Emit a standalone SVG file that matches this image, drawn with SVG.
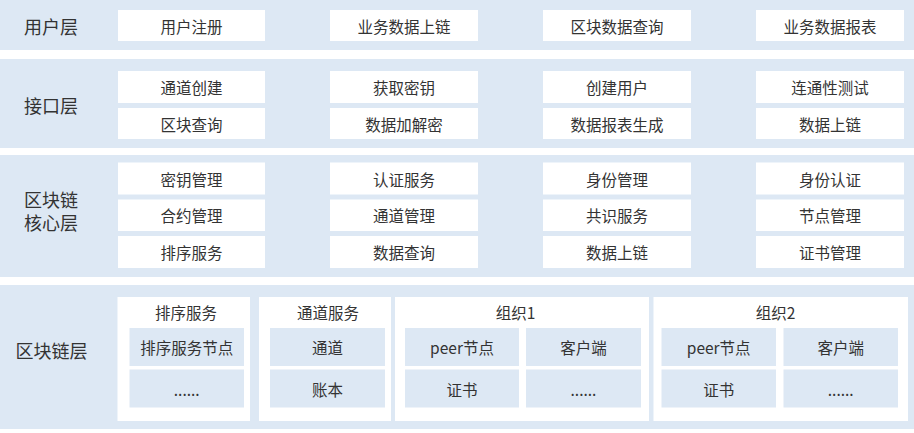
<svg xmlns="http://www.w3.org/2000/svg" width="914" height="433" viewBox="0 0 914 433">
<style>
.band{fill:#dde8f4}
.cell{fill:#ffffff}
.inner{fill:#dde8f4}
text{font-family:"Noto Sans CJK SC","Microsoft YaHei",sans-serif;fill:#333333;text-anchor:middle;dominant-baseline:central}
.t{font-size:15.5px}
.lbl{font-size:18px}
</style>
<rect width="914" height="433" fill="#ffffff"/>
<g id="layer-user">
<rect class="band" x="0" y="0" width="914" height="50"/>
<text class="lbl" x="51" y="25.5">用户层</text>
<g id="n-user-1"><rect class="cell" x="118" y="10" width="147" height="31"/><text class="t" x="191.5" y="25.5">用户注册</text></g>
<g id="n-user-2"><rect class="cell" x="330" y="10" width="148" height="31"/><text class="t" x="404" y="25.5">业务数据上链</text></g>
<g id="n-user-3"><rect class="cell" x="543" y="10" width="148" height="31"/><text class="t" x="617" y="25.5">区块数据查询</text></g>
<g id="n-user-4"><rect class="cell" x="756" y="10" width="148" height="31"/><text class="t" x="830" y="25.5">业务数据报表</text></g>
</g>
<g id="layer-api">
<rect class="band" x="0" y="59" width="914" height="89"/>
<text class="lbl" x="51" y="104.5">接口层</text>
<g id="n-api-1"><rect class="cell" x="118" y="71" width="147" height="32"/><text class="t" x="191.5" y="87">通道创建</text></g>
<g id="n-api-2"><rect class="cell" x="330" y="71" width="148" height="32"/><text class="t" x="404" y="87">获取密钥</text></g>
<g id="n-api-3"><rect class="cell" x="543" y="71" width="148" height="32"/><text class="t" x="617" y="87">创建用户</text></g>
<g id="n-api-4"><rect class="cell" x="756" y="71" width="148" height="32"/><text class="t" x="830" y="87">连通性测试</text></g>
<g id="n-api-5"><rect class="cell" x="118" y="108" width="147" height="31"/><text class="t" x="191.5" y="123.5">区块查询</text></g>
<g id="n-api-6"><rect class="cell" x="330" y="108" width="148" height="31"/><text class="t" x="404" y="123.5">数据加解密</text></g>
<g id="n-api-7"><rect class="cell" x="543" y="108" width="148" height="31"/><text class="t" x="617" y="123.5">数据报表生成</text></g>
<g id="n-api-8"><rect class="cell" x="756" y="108" width="148" height="31"/><text class="t" x="830" y="123.5">数据上链</text></g>
</g>
<g id="layer-core">
<rect class="band" x="0" y="155" width="914" height="122"/>
<text class="lbl" x="51" y="199"><tspan x="51" y="199">区块链</tspan><tspan x="51" y="222">核心层</tspan></text>
<g id="n-core-1"><rect class="cell" x="118" y="162.5" width="147" height="32"/><text class="t" x="191.5" y="178.5">密钥管理</text></g>
<g id="n-core-2"><rect class="cell" x="330" y="162.5" width="148" height="32"/><text class="t" x="404" y="178.5">认证服务</text></g>
<g id="n-core-3"><rect class="cell" x="543" y="162.5" width="148" height="32"/><text class="t" x="617" y="178.5">身份管理</text></g>
<g id="n-core-4"><rect class="cell" x="756" y="162.5" width="148" height="32"/><text class="t" x="830" y="178.5">身份认证</text></g>
<g id="n-core-5"><rect class="cell" x="118" y="199.5" width="147" height="31.5"/><text class="t" x="191.5" y="215.3">合约管理</text></g>
<g id="n-core-6"><rect class="cell" x="330" y="199.5" width="148" height="31.5"/><text class="t" x="404" y="215.3">通道管理</text></g>
<g id="n-core-7"><rect class="cell" x="543" y="199.5" width="148" height="31.5"/><text class="t" x="617" y="215.3">共识服务</text></g>
<g id="n-core-8"><rect class="cell" x="756" y="199.5" width="148" height="31.5"/><text class="t" x="830" y="215.3">节点管理</text></g>
<g id="n-core-9"><rect class="cell" x="118" y="236" width="147" height="32"/><text class="t" x="191.5" y="252">排序服务</text></g>
<g id="n-core-10"><rect class="cell" x="330" y="236" width="148" height="32"/><text class="t" x="404" y="252">数据查询</text></g>
<g id="n-core-11"><rect class="cell" x="543" y="236" width="148" height="32"/><text class="t" x="617" y="252">数据上链</text></g>
<g id="n-core-12"><rect class="cell" x="756" y="236" width="148" height="32"/><text class="t" x="830" y="252">证书管理</text></g>
</g>
<g id="layer-chain">
<rect class="band" x="0" y="285" width="914" height="144"/>
<text class="lbl" x="51.5" y="349.5">区块链层</text>
<g id="n-orderer">
<rect class="cell" x="117.5" y="297" width="132.5" height="124"/>
<text class="t" x="186" y="311.5">排序服务</text>
<rect class="inner" x="129.5" y="328" width="114.5" height="38"/><text class="t" x="186.7" y="347">排序服务节点</text>
<rect class="inner" x="129.5" y="369.5" width="114.5" height="38"/><text class="t" x="186.7" y="388.5">......</text>
</g>
<g id="n-channel">
<rect class="cell" x="259" y="297" width="132" height="124"/>
<text class="t" x="328" y="311.5">通道服务</text>
<rect class="inner" x="270" y="328" width="115" height="38"/><text class="t" x="327.5" y="347">通道</text>
<rect class="inner" x="270" y="369.5" width="115" height="38"/><text class="t" x="327.5" y="388.5">账本</text>
</g>
<g id="n-org1">
<rect class="cell" x="395" y="297" width="254" height="124"/>
<text class="t" x="515.5" y="311.5">组织1</text>
<rect class="inner" x="405" y="328" width="114" height="38"/><text class="t" x="462" y="347">peer节点</text>
<rect class="inner" x="526" y="328" width="115" height="38"/><text class="t" x="583.5" y="347">客户端</text>
<rect class="inner" x="405" y="369.5" width="114" height="38"/><text class="t" x="462" y="388.5">证书</text>
<rect class="inner" x="526" y="369.5" width="115" height="38"/><text class="t" x="583.5" y="388.5">......</text>
</g>
<g id="n-org2">
<rect class="cell" x="653.5" y="297" width="254.5" height="124"/>
<text class="t" x="775.5" y="311.5">组织2</text>
<rect class="inner" x="661.5" y="328" width="114.5" height="38"/><text class="t" x="718.7" y="347">peer节点</text>
<rect class="inner" x="783.5" y="328" width="114.5" height="38"/><text class="t" x="840.7" y="347">客户端</text>
<rect class="inner" x="661.5" y="369.5" width="114.5" height="38"/><text class="t" x="718.7" y="388.5">证书</text>
<rect class="inner" x="783.5" y="369.5" width="114.5" height="38"/><text class="t" x="840.7" y="388.5">......</text>
</g>
</g>
</svg>
